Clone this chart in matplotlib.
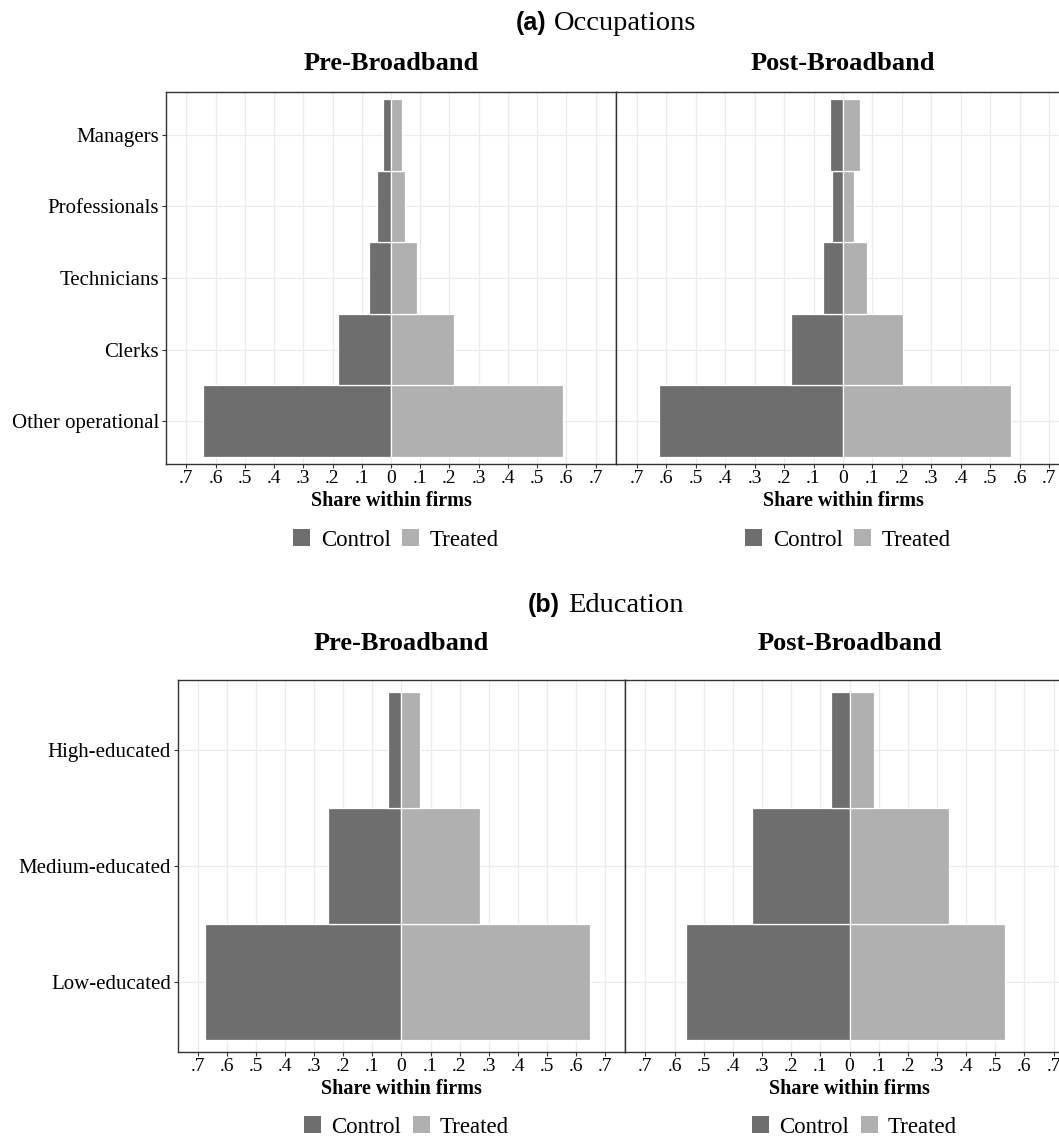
import matplotlib.pyplot as plt
import numpy as np
from matplotlib.patches import Patch

# occupation shares within firms
occ_labels = ['Other operational', 'Clerks', 'Technicians', 'Professionals', 'Managers']
occ_pre_control = [0.642, 0.181, 0.074, 0.048, 0.027]
occ_pre_treated = [0.588, 0.214, 0.089, 0.049, 0.037]
occ_post_control = [0.624, 0.175, 0.069, 0.038, 0.045]
occ_post_treated = [0.571, 0.202, 0.083, 0.038, 0.059]

# education shares within firms
edu_labels = ['Low-educated', 'Medium-educated', 'High-educated']
edu_pre_control = [0.678, 0.252, 0.046]
edu_pre_treated = [0.650, 0.269, 0.063]
edu_post_control = [0.562, 0.334, 0.063]
edu_post_treated = [0.533, 0.341, 0.084]

xticks = np.round(np.arange(-0.7, 0.71, 0.1), 1)
xtick_labels = ['0' if t == 0 else ('%.1f' % abs(t)).lstrip('0') for t in xticks]

SERIF = 'Liberation Serif'
SANS = 'Liberation Sans'
C_CTRL = '#6E6E6E'
C_TREAT = '#B0B0B0'
FRAME = '#333333'

W, H = 1059, 1138
fig = plt.figure(figsize=(W / 100, H / 100), dpi=100)


def box(l, t, r, b):
    return fig.add_axes([l / W, 1 - b / H, (r - l) / W, (b - t) / H])


def pyramid(ax, labels, control, treated, title, show_y, title_y, legend_y):
    y = np.arange(1, len(labels) + 1)
    ax.barh(y, -np.array(control), height=1.0, color=C_CTRL, edgecolor='white', lw=0.9, zorder=2)
    ax.barh(y, np.array(treated), height=1.0, color=C_TREAT, edgecolor='white', lw=0.9, zorder=2)
    ax.set_xlim(-0.77, 0.77)
    ax.set_ylim(0.4, len(labels) + 0.6)
    ax.set_xticks(xticks)
    ax.set_xticklabels(xtick_labels, fontfamily=SERIF, fontsize=14)
    ax.set_yticks(y)
    if show_y:
        ax.set_yticklabels(labels, fontfamily=SERIF, fontsize=15)
        ax.tick_params(axis='y', length=3, width=0.8, color=FRAME, pad=2)
    else:
        ax.set_yticklabels([])
        ax.tick_params(axis='y', length=0)
    ax.tick_params(axis='x', length=3, width=0.8, color=FRAME, pad=1)
    ax.grid(True, color='#EBEBEB', lw=0.9)
    ax.set_axisbelow(True)
    for s in ax.spines.values():
        s.set_color(FRAME)
        s.set_linewidth(1.0)
    pos = ax.get_position()
    cx = pos.x0 + pos.width / 2
    fig.text(cx, 1 - title_y / H, title, fontfamily=SERIF, fontweight='bold', fontsize=19,
             ha='center', va='center')
    ax.set_xlabel('Share within firms', fontfamily=SERIF, fontweight='bold', fontsize=14.5, labelpad=3)
    handles = [Patch(facecolor=C_CTRL, edgecolor='none'), Patch(facecolor=C_TREAT, edgecolor='none')]
    ax.legend(handles, ['Control', 'Treated'], loc='center', ncol=2, frameon=False,
              bbox_to_anchor=(cx + 5 / W, 1 - legend_y / H), bbox_transform=fig.transFigure,
              prop={'family': SERIF, 'size': 16.5}, handlelength=0.75, handleheight=0.75,
              handletextpad=0.45, columnspacing=0.5)


a1 = box(166, 92, 616, 464)
a2 = box(616, 92, 1070, 464)
b1 = box(178, 680, 625, 1052)
b2 = box(625, 680, 1074, 1052)

pyramid(a1, occ_labels, occ_pre_control, occ_pre_treated, 'Pre-Broadband', True, 63, 540)
pyramid(a2, occ_labels, occ_post_control, occ_post_treated, 'Post-Broadband', False, 63, 540)
pyramid(b1, edu_labels, edu_pre_control, edu_pre_treated, 'Pre-Broadband', True, 644, 1127)
pyramid(b2, edu_labels, edu_post_control, edu_post_treated, 'Post-Broadband', False, 644, 1127)

# panel headers
fig.text(546 / W, 1 - 23 / H, '(a)', fontfamily=SANS, fontweight='bold', fontsize=18, ha='right', va='center')
fig.text(554 / W, 1 - 23 / H, 'Occupations', fontfamily=SERIF, fontsize=20.5, ha='left', va='center')
fig.text(560 / W, 1 - 605 / H, '(b)', fontfamily=SANS, fontweight='bold', fontsize=18, ha='right', va='center')
fig.text(568 / W, 1 - 605 / H, 'Education', fontfamily=SERIF, fontsize=20.5, ha='left', va='center')

fig.savefig('out.png', dpi=100, facecolor='white')
